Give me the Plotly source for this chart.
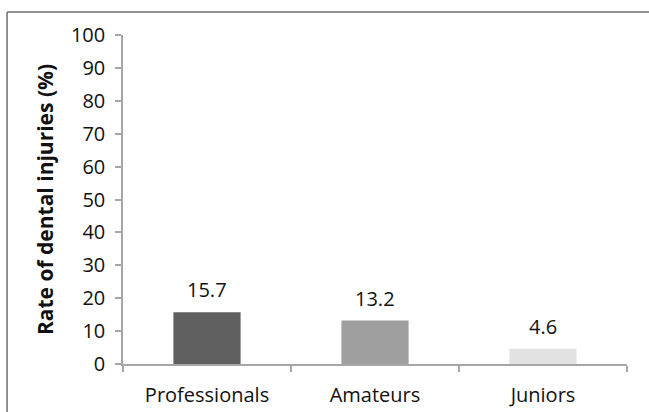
import plotly.graph_objects as go

categories = ["Professionals", "Amateurs", "Juniors"]
values = [15.7, 13.2, 4.6]
labels = ["15.7", "13.2", "4.6"]
bar_colors = ["#606060", "#9f9f9f", "#e2e2e2"]
y_ticks = list(range(0, 101, 10))

FONT = "Open Sans"
FS = 20

fig = go.Figure()
fig.add_trace(go.Bar(
    x=categories, y=values, marker=dict(color=bar_colors, line=dict(width=0)),
    width=0.4, showlegend=False, hoverinfo="skip",
))

for c, v, t in zip(categories, values, labels):
    fig.add_annotation(x=c, y=v, text=t, showarrow=False, yanchor="bottom",
                       yshift=7, font=dict(family=FONT, size=FS, color="#111111"))

fig.update_layout(
    width=649, height=412,
    margin=dict(l=123, r=22, t=35, b=48),
    paper_bgcolor="white", plot_bgcolor="white",
    font=dict(family=FONT, size=FS, color="#111111"),
    bargap=0.6,
    xaxis=dict(
        showline=True, linecolor="#a6a6a6", linewidth=1.5,
        ticks="outside", ticklen=6, tickcolor="#a6a6a6", tickwidth=1.5,
        showgrid=False, tickson="boundaries", ticklabelstandoff=12,
        automargin=False,
        tickfont=dict(family=FONT, size=FS, color="#111111"),
    ),
    yaxis=dict(
        range=[0, 100], tickvals=y_ticks,
        showline=True, linecolor="#a6a6a6", linewidth=1.5,
        ticks="outside", ticklen=6, tickcolor="#a6a6a6", tickwidth=1.5,
        showgrid=False, zeroline=False, ticklabelstandoff=6,
        automargin=False,
        tickfont=dict(family=FONT, size=FS, color="#111111"),
        title=dict(text="<b>Rate of dental injuries (%)</b>",
                   font=dict(family=FONT, size=21, color="#111111"), standoff=12),
    ),
)

# outer frame (left and top edges visible)
fig.add_shape(type="line", xref="paper", yref="paper", x0=-0.230, x1=-0.230,
              y0=-0.3, y1=1.07, line=dict(color="#6e6e6e", width=1.5))
fig.add_shape(type="line", xref="paper", yref="paper", x0=-0.230, x1=1.2,
              y0=1.07, y1=1.07, line=dict(color="#6e6e6e", width=1.5))

fig.write_html("out.html")
